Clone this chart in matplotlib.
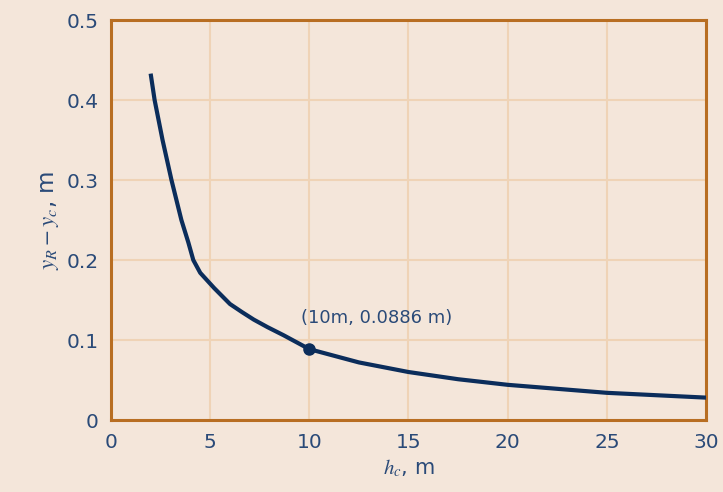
import matplotlib
matplotlib.use("Agg")
import matplotlib.pyplot as plt

# Data
h_c = [2.0, 2.2, 2.6, 3.05, 3.3, 3.55, 3.9, 4.15, 4.5, 5.2, 5.6, 6.0, 6.6,
       7.2, 7.9, 8.7, 10, 12.5, 15, 17.5, 20, 25, 30]
dy = [0.433, 0.40, 0.35, 0.30, 0.275, 0.25, 0.222, 0.20, 0.184, 0.165,
      0.155, 0.145, 0.135, 0.1255, 0.116, 0.106, 0.0886, 0.072, 0.06, 0.051,
      0.044, 0.034, 0.028]
point_x = [10]
point_y = [0.0886]
point_label = "(10m, 0.0886 m)"
label_x, label_y = 13.4, 0.127
xticks = [0, 5, 10, 15, 20, 25, 30]
yticks = [0, 0.1, 0.2, 0.3, 0.4, 0.5]
ytick_labels = ["0", "0.1", "0.2", "0.3", "0.4", "0.5"]

bg = "#f4e6da"
spine_c = "#b86e22"
grid_c = "#efd3b6"
text_c = "#2a4a78"
line_c = "#0b2d5b"

plt.rcParams['mathtext.fontset'] = 'stix'

fig = plt.figure(figsize=(7.23, 4.92), dpi=100, facecolor=bg)
ax = fig.add_axes([0.1535, 0.1463, 0.823, 0.813])
ax.set_facecolor(bg)

ax.plot(h_c, dy, color=line_c, lw=3.0, solid_capstyle='butt',
        solid_joinstyle='round', zorder=3)
ax.plot(point_x, point_y, 'o', color=line_c, ms=8, zorder=4)
ax.text(label_x, label_y, point_label, fontsize=13, color=text_c,
        ha='center', va='center')

ax.set_xlim(0, 30)
ax.set_ylim(0, 0.5)
ax.set_xticks(xticks)
ax.set_yticks(yticks)
ax.set_yticklabels(ytick_labels)
ax.tick_params(length=0, pad=9, labelsize=14.5, colors=text_c)
ax.grid(True, color=grid_c, lw=1.5, zorder=0)
ax.set_axisbelow(True)
for s in ax.spines.values():
    s.set_color(spine_c)
    s.set_linewidth(2.2)

ax.set_xlabel(r"$h_c$, m", fontsize=15, color=text_c, labelpad=4)
ax.set_ylabel(r"$y_R - y_c$, m", fontsize=16.5, color=text_c, labelpad=4)

fig.savefig("out.png", dpi=100, facecolor=bg)
